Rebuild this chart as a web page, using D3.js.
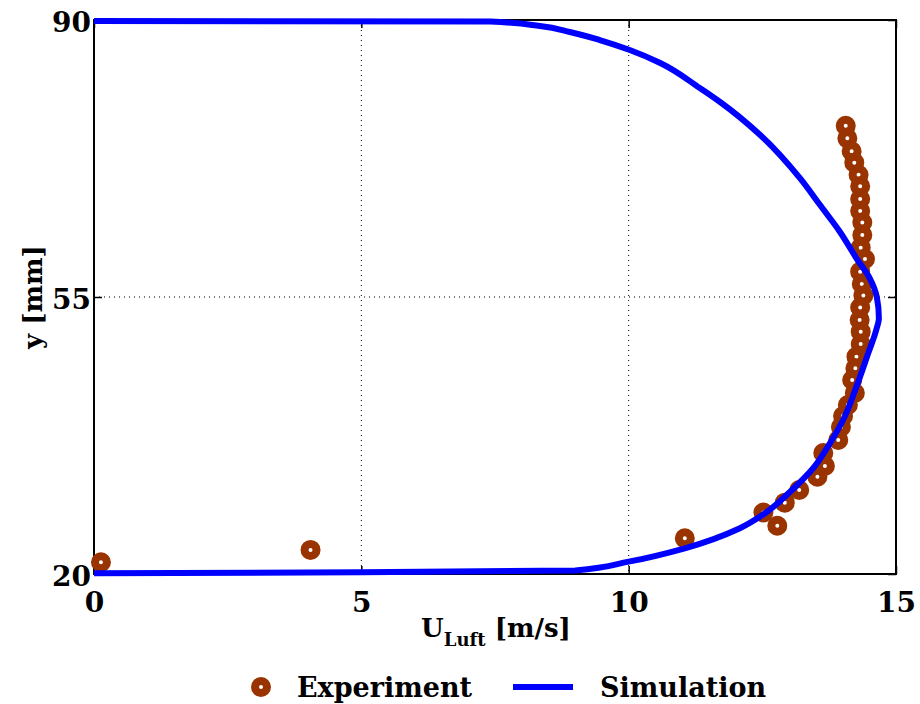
<!DOCTYPE html>
<html>
<head>
<meta charset="utf-8">
<script src="https://cdn.jsdelivr.net/npm/d3@7"></script>
<style>
  body { margin: 0; background: #fff; }
  text { font-family: "DejaVu Serif", serif; font-weight: bold; }
</style>
</head>
<body>
<div id="chart"></div>
<script>
// set the dimensions and margins of the graph
const width = 920,
    height = 704;
const margin = {top: 20, right: 24, bottom: 130, left: 94};
const plotW = width - margin.left - margin.right,
    plotH = height - margin.top - margin.bottom;

// tick labels
const xTicks = [0, 5, 10, 15];
const yTicks = [20, 55, 90];

// Experiment (U in m/s, y in mm)
const expU = [14.06, 14.09, 14.17, 14.22, 14.30, 14.33, 14.33, 14.33, 14.37, 14.37,
  14.34, 14.42, 14.33, 14.36, 14.39, 14.33, 14.32, 14.34, 14.34, 14.26,
  14.24, 14.18, 14.23, 14.10, 14.01, 13.97, 13.92, 13.64, 13.67, 13.53,
  13.19, 12.92, 12.52, 12.78, 11.05, 4.05, 0.13];
const expY = [76.64, 75.05, 73.41, 71.97, 70.45, 68.99, 67.38, 65.87, 64.41, 62.84,
  61.23, 59.80, 58.20, 56.64, 55.19, 53.67, 52.09, 50.62, 49.06, 47.46,
  45.99, 44.51, 42.87, 41.36, 39.97, 38.58, 36.93, 35.29, 33.65, 32.30,
  30.62, 29.01, 27.77, 26.09, 24.51, 23.04, 21.48];

// Simulation
const simU = [0, 5.0, 9.0, 10.0, 11.05, 12.08, 12.53, 13.02, 13.45, 13.80,
  14.01, 14.26, 14.48, 14.63, 14.68, 14.64, 14.51, 14.26, 13.95, 13.58,
  13.20, 12.46, 11.71, 11.33, 10.59, 10.02, 9.46, 8.90, 8.34, 7.41, 0];
const simY = [20.09, 20.22, 20.45, 21.56, 23.25, 25.78, 27.58, 30.40, 33.36, 36.93,
  39.46, 43.67, 47.89, 50.83, 52.35, 55.04, 57.36, 59.89, 63.25, 66.62,
  70.04, 75.47, 79.64, 81.41, 84.57, 86.21, 87.47, 88.48, 89.24, 89.81, 89.87];

const brown = "#993300", blue = "#0000ff";

const svg = d3.select("#chart")
  .append("svg")
    .attr("width", width)
    .attr("height", height);

const g = svg.append("g")
    .attr("transform", `translate(${margin.left}, ${margin.top})`);

const x = d3.scaleLinear().domain([0, 15]).range([0, plotW]);
const y = d3.scaleLinear().domain([20, 90]).range([plotH, 0]);

// dotted grid
g.selectAll(".vgrid")
  .data(xTicks.slice(1, -1))
  .join("line")
    .attr("x1", d => x(d)).attr("x2", d => x(d))
    .attr("y1", 0).attr("y2", plotH)
    .attr("stroke", "#000").attr("stroke-width", 1)
    .attr("stroke-dasharray", "1,4");
g.selectAll(".hgrid")
  .data(yTicks.slice(1, -1))
  .join("line")
    .attr("y1", d => y(d)).attr("y2", d => y(d))
    .attr("x1", 0).attr("x2", plotW)
    .attr("stroke", "#000").attr("stroke-width", 1)
    .attr("stroke-dasharray", "1,4");

// axes with inward ticks
const xAxis = g.append("g")
    .attr("transform", `translate(0, ${plotH})`)
    .call(d3.axisBottom(x).tickValues(xTicks).tickSizeInner(-8).tickSizeOuter(0).tickPadding(18));
const yAxis = g.append("g")
    .call(d3.axisLeft(y).tickValues(yTicks).tickSizeInner(-8).tickSizeOuter(0).tickPadding(3));
g.append("g")
    .call(d3.axisTop(x).tickValues(xTicks).tickSizeInner(-8).tickSizeOuter(0))
    .selectAll("text").remove();
g.append("g")
    .attr("transform", `translate(${plotW}, 0)`)
    .call(d3.axisRight(y).tickValues(yTicks).tickSizeInner(-8).tickSizeOuter(0))
    .selectAll("text").remove();

svg.selectAll(".domain").attr("stroke", "none");
svg.selectAll(".tick line").attr("stroke", "#000").attr("stroke-width", 1.5);
xAxis.selectAll("text").attr("font-size", 28).attr("fill", "#000")
    .attr("font-family", "DejaVu Serif").attr("font-weight", "bold");
yAxis.selectAll("text").attr("font-size", 28).attr("fill", "#000")
    .attr("font-family", "DejaVu Serif").attr("font-weight", "bold")
    .attr("dy", "0.42em");

// box
g.append("rect")
    .attr("width", plotW).attr("height", plotH)
    .attr("fill", "none").attr("stroke", "#000").attr("stroke-width", 2);

// experiment markers
g.selectAll(".exp")
  .data(expU)
  .join("circle")
    .attr("cx", d => x(d))
    .attr("cy", (d, i) => y(expY[i]))
    .attr("r", 6)
    .attr("fill", "#fff")
    .attr("stroke", brown)
    .attr("stroke-width", 8);

// simulation line, on top of the markers
const line = d3.line()
    .x((d, i) => x(simU[i]))
    .y((d, i) => y(simY[i]))
    .curve(d3.curveMonotoneY);
g.append("path")
    .datum(simU)
    .attr("d", line)
    .attr("fill", "none")
    .attr("stroke", blue)
    .attr("stroke-width", 6)
    .attr("stroke-linejoin", "round");

// axis titles
const xt = svg.append("text")
    .attr("x", 496).attr("y", 637)
    .attr("text-anchor", "middle")
    .attr("font-size", 26);
xt.append("tspan").text("U");
xt.append("tspan").attr("font-size", 18).attr("dy", 9).text("Luft");
xt.append("tspan").attr("dy", -9).text(" [m/s]");

svg.append("text")
    .attr("transform", `translate(42, ${margin.top + y(55)}) rotate(-90)`)
    .attr("text-anchor", "middle")
    .attr("font-size", 26)
    .text("y [mm]");

// legend
const legend = svg.append("g");
legend.append("circle")
    .attr("cx", 261).attr("cy", 687).attr("r", 6)
    .attr("fill", "#fff").attr("stroke", brown).attr("stroke-width", 8);
legend.append("text")
    .attr("x", 297).attr("y", 697).attr("font-size", 27)
    .text("Experiment");
legend.append("line")
    .attr("x1", 513).attr("x2", 573).attr("y1", 687).attr("y2", 687)
    .attr("stroke", blue).attr("stroke-width", 6);
legend.append("text")
    .attr("x", 600).attr("y", 697).attr("font-size", 27)
    .text("Simulation");
</script>
</body>
</html>
